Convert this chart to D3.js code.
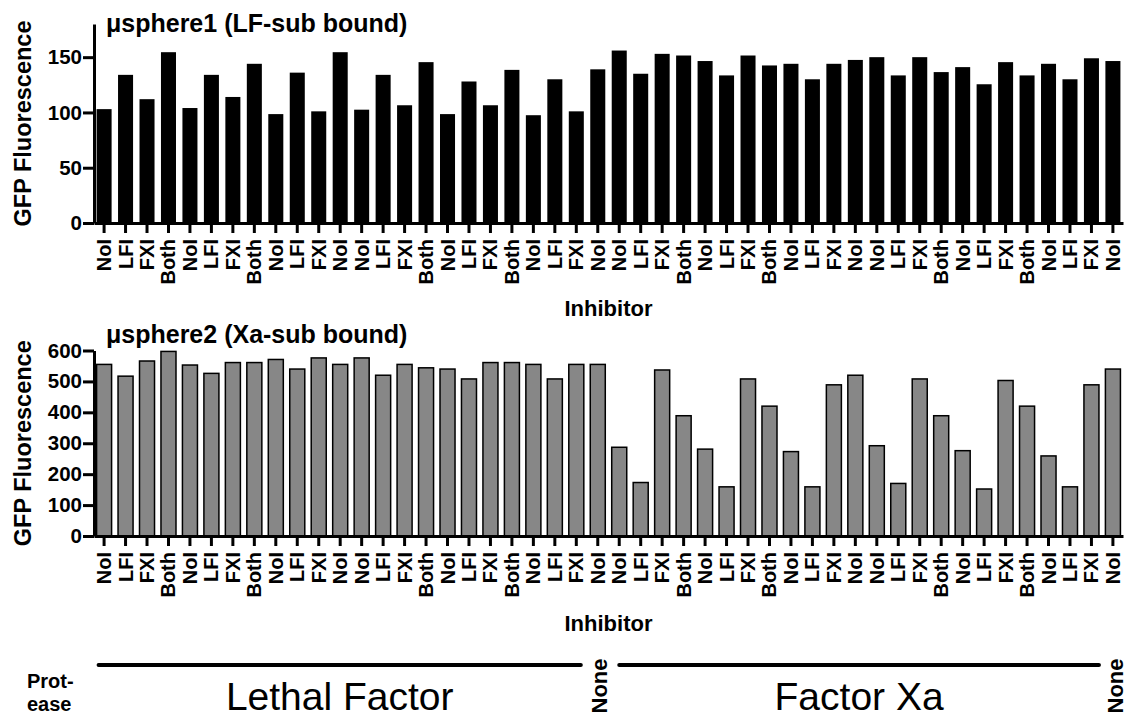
<!DOCTYPE html>
<html>
<head>
<meta charset="utf-8">
<script src="https://cdn.jsdelivr.net/npm/d3@7"></script>
<style>
  html, body { margin: 0; padding: 0; background: #fff; }
  svg { display: block; font-family: "Liberation Sans", Arial, Helvetica, sans-serif; }
</style>
</head>
<body>
<script>
// Inhibitor condition under each bar (same order in both panels)
const inhibitors = [
  "NoI","LFI","FXI","Both","NoI","LFI","FXI","Both","NoI","LFI","FXI","NoI",
  "NoI","LFI","FXI","Both","NoI","LFI","FXI","Both","NoI","LFI","FXI","NoI",
  "NoI","LFI","FXI","Both","NoI","LFI","FXI","Both","NoI","LFI","FXI","NoI",
  "NoI","LFI","FXI","Both","NoI","LFI","FXI","Both","NoI","LFI","FXI","NoI"
];

// GFP fluorescence, microsphere 1 (LF substrate bound)
const sphere1Values = [
  103, 134, 112, 154.5, 104, 134, 114, 144, 98.5, 136, 101, 154.5,
  102.5, 134, 106.5, 145.5, 98.5, 128, 106.5, 138.5, 97.5, 130, 101, 139,
  156, 135, 153, 151.5, 146.5, 133.5, 151.5, 142.5, 144, 130, 144, 147.5,
  150, 133.5, 150, 136.5, 141, 125.5, 145.5, 133.5, 144, 130, 149, 146.5
];

// GFP fluorescence, microsphere 2 (Xa substrate bound)
const sphere2Values = [
  555, 517, 566, 597, 553, 526, 561, 561, 571, 540, 576, 555,
  576, 520, 555, 544, 540, 508, 561, 561, 555, 508, 555, 555,
  287, 173, 537, 389, 281, 159, 508, 420, 273, 159, 489, 520,
  292, 170, 508, 389, 276, 152, 503, 420, 259, 159, 489, 540
];

const sphere1Ticks = [0, 50, 100, 150];
const sphere2Ticks = [0, 100, 200, 300, 400, 500, 600];

const panelTitles = ["\u03BCsphere1 (LF-sub bound)", "\u03BCsphere2 (Xa-sub bound)"];
const yAxisTitle = "GFP Fluorescence";
const xAxisTitle = "Inhibitor";

// Protease used for each run of bars: [label, first bar index, last bar index]
const proteaseSpans = [
  ["Lethal Factor", 0, 22],
  ["None", 23, 23],
  ["Factor Xa", 24, 46],
  ["None", 47, 47]
];
const proteaseTitle = ["Prot-", "ease"];

const W = 1136, H = 719;
const svg = d3.select("body").append("svg").attr("width", W).attr("height", H);
svg.append("rect").attr("width", W).attr("height", H).attr("fill", "#fff");

const x = d3.scaleBand()
  .domain(d3.range(inhibitors.length))
  .range([94, 1123])
  .paddingInner(0.3)
  .paddingOuter(0.12);

function drawPanel(opts) {
  const y = d3.scaleLinear().domain([0, opts.yMax]).range([opts.yBottom, opts.yTop]);
  const g = svg.append("g");

  // bars
  g.append("g").selectAll("rect")
    .data(opts.values)
    .join("rect")
    .attr("x", (d, i) => x(i))
    .attr("width", x.bandwidth())
    .attr("y", d => y(d))
    .attr("height", d => y(0) - y(d))
    .attr("fill", opts.fill)
    .attr("stroke", opts.stroke ? "#000" : "none")
    .attr("stroke-width", opts.stroke ? 1.5 : 0);

  // y axis
  const ya = g.append("g")
    .attr("transform", `translate(${x.range()[0]},0)`)
    .call(d3.axisLeft(y).tickValues(opts.ticks).tickSize(11).tickPadding(1).tickSizeOuter(0));
  ya.select(".domain").attr("stroke", "#000").attr("stroke-width", 3);
  ya.selectAll(".tick line").attr("stroke", "#000").attr("stroke-width", 3);
  ya.selectAll(".tick text")
    .attr("fill", "#000")
    .style("font-size", "20.5px")
    .style("font-weight", "bold")
    .style("font-family", "'Liberation Sans', Arial, sans-serif");

  // x axis
  const xa = g.append("g")
    .attr("transform", `translate(0,${opts.yBottom})`)
    .call(d3.axisBottom(x).tickFormat(i => inhibitors[i]).tickSize(10).tickSizeOuter(0));
  xa.select(".domain").attr("stroke", "#000").attr("stroke-width", 3);
  xa.selectAll(".tick line").attr("stroke", "#000").attr("stroke-width", 3);
  xa.selectAll(".tick text")
    .attr("transform", "rotate(-90)")
    .attr("text-anchor", "end")
    .attr("x", -16)
    .attr("y", 0)
    .attr("dy", "0.35em")
    .attr("fill", "#000")
    .style("font-size", "20px")
    .style("font-weight", "bold")
    .style("font-family", "'Liberation Sans', Arial, sans-serif");

  // panel title
  g.append("text")
    .attr("x", 106)
    .attr("y", opts.titleY)
    .attr("font-size", 25)
    .attr("font-weight", "bold")
    .text(opts.title);

  // y axis title
  g.append("text")
    .attr("transform", `translate(31,${(opts.yTop + opts.yBottom) / 2}) rotate(-90)`)
    .attr("text-anchor", "middle")
    .attr("font-size", 23.5)
    .attr("font-weight", "bold")
    .text(yAxisTitle);

  // x axis title
  g.append("text")
    .attr("x", (x.range()[0] + x.range()[1]) / 2)
    .attr("y", opts.yBottom + opts.xTitleGap)
    .attr("text-anchor", "middle")
    .attr("font-size", 22)
    .attr("font-weight", "bold")
    .text(xAxisTitle);
}

drawPanel({
  values: sphere1Values, yMax: 180, ticks: sphere1Ticks,
  yTop: 24, yBottom: 223, title: panelTitles[0], titleY: 32,
  fill: "#000", stroke: false, xTitleGap: 93
});

drawPanel({
  values: sphere2Values, yMax: 600, ticks: sphere2Ticks,
  yTop: 350.5, yBottom: 536, title: panelTitles[1], titleY: 343,
  fill: "#878787", stroke: true, xTitleGap: 95
});

// protease annotation row
const bw = x.bandwidth();
const ann = svg.append("g");
const lineY = 665;

ann.selectAll("text.prot")
  .data(proteaseTitle)
  .join("text")
  .attr("class", "prot")
  .attr("x", 27)
  .attr("y", (d, i) => 688 + i * 23)
  .attr("font-size", 20)
  .attr("font-weight", "bold")
  .text(d => d);

proteaseSpans.forEach(([label, a, b]) => {
  if (a === b) {
    ann.append("text")
      .attr("transform", `translate(${x(a) + bw / 2 + 2},686) rotate(-90)`)
      .attr("text-anchor", "middle")
      .attr("dy", "0.35em")
      .attr("font-size", 22)
      .attr("font-weight", "bold")
      .text(label);
  } else {
    const x1 = a === 0 ? x(a) + 2 : x(a) + bw / 2;
    const x2 = x(b) + bw - (a === 0 ? 3 : 0);
    ann.append("line")
      .attr("x1", x1).attr("x2", x2)
      .attr("y1", lineY).attr("y2", lineY)
      .attr("stroke", "#000")
      .attr("stroke-width", 4)
      .attr("stroke-linecap", "round");
    ann.append("text")
      .attr("x", (x1 + x2) / 2)
      .attr("y", 710)
      .attr("text-anchor", "middle")
      .attr("font-size", 39)
      .text(label);
  }
});
</script>
</body>
</html>
